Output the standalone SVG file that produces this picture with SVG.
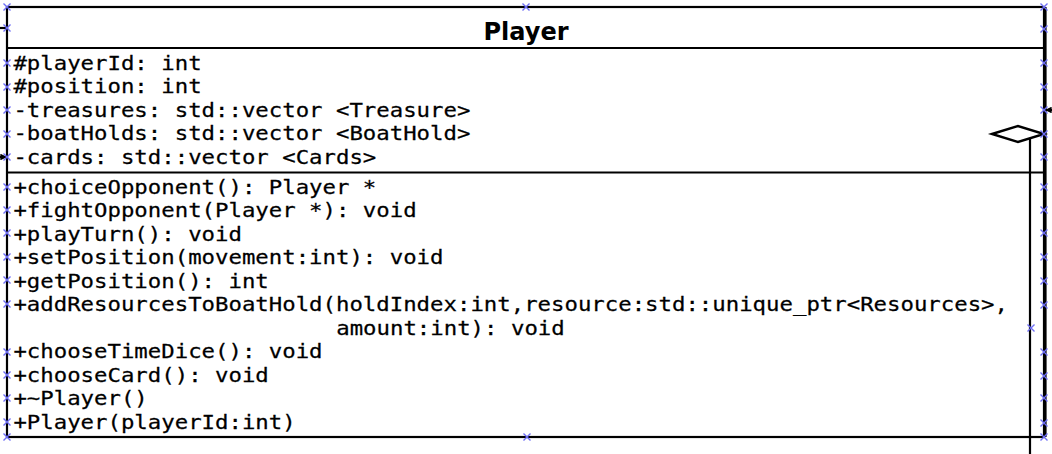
<svg xmlns="http://www.w3.org/2000/svg" width="1052" height="454" viewBox="0 0 1052 454">
  <style>
    .frame { fill: none; stroke: #000000; stroke-width: 2.2; }
    .sep { stroke: #000000; stroke-width: 2.2; }
    .title { font-family: "DejaVu Sans", "Liberation Sans", sans-serif; font-weight: bold; font-size: 24px; fill: #000000; }
    .member { font-family: "DejaVu Sans Mono", "Liberation Mono", monospace; font-size: 20px; fill: #000000; stroke: #000000; stroke-width: 0.25; }
    .wire { fill: none; stroke: #000000; stroke-width: 2.2; }
    .cp { stroke: #6e6ef5; stroke-width: 1.4; fill: none; }
  </style>
  <defs>
    <path id="cross" class="cp" d="M-3.5,-3.5 L3.5,3.5 M-3.5,3.5 L3.5,-3.5"/>
    <marker id="filled" viewBox="0 0 10 10" refX="10" refY="5" markerWidth="3.4" markerHeight="3" orient="auto">
      <path d="M0,0 L10,5 L0,10 Z" fill="#000000"/>
    </marker>
  </defs>

  <!-- connectors -->
  <g id="connectors">
    <line class="wire" x1="1045.5" y1="7" x2="1045.5" y2="437"/>
    <line class="wire" x1="0" y1="28" x2="7" y2="28"/>
    <line class="wire" x1="0" y1="157" x2="7" y2="157" marker-end="url(#filled)"/>
    <line class="wire" x1="1052" y1="110" x2="1045" y2="110" marker-end="url(#filled)"/>
    <polyline class="wire" points="1030,138 1030,454"/>
    <polygon points="992,134 1018,126 1044,134 1018,142" fill="#ffffff" stroke="#000000" stroke-width="2.4"/>
  </g>

  <!-- class Player -->
  <g id="player">
    <rect class="frame" x="7" y="7" width="1037" height="430"/>
    <line class="sep" x1="7" y1="48" x2="1044" y2="48"/>
    <line class="sep" x1="7" y1="172.5" x2="1044" y2="172.5"/>
    <text class="title" x="526" y="40" text-anchor="middle">Player</text>
    <g transform="scale(1.117,1)">
      <text class="member" x="12" y="70">#playerId: int</text>
      <text class="member" x="12" y="93.5">#position: int</text>
      <text class="member" x="12" y="117">-treasures: std::vector &lt;Treasure&gt;</text>
      <text class="member" x="12" y="140.5">-boatHolds: std::vector &lt;BoatHold&gt;</text>
      <text class="member" x="12" y="164">-cards: std::vector &lt;Cards&gt;</text>
      <text class="member" x="12" y="194">+choiceOpponent(): Player *</text>
      <text class="member" x="12" y="217.5">+fightOpponent(Player *): void</text>
      <text class="member" x="12" y="241">+playTurn(): void</text>
      <text class="member" x="12" y="264.5">+setPosition(movement:int): void</text>
      <text class="member" x="12" y="288">+getPosition(): int</text>
      <text class="member" x="12" y="311.5">+addResourcesToBoatHold(holdIndex:int,resource:std::unique_ptr&lt;Resources&gt;,</text>
      <text class="member" x="301" y="335">amount:int): void</text>
      <text class="member" x="12" y="358.5">+chooseTimeDice(): void</text>
      <text class="member" x="12" y="382">+chooseCard(): void</text>
      <text class="member" x="12" y="405.5">+~Player()</text>
      <text class="member" x="12" y="429">+Player(playerId:int)</text>
    </g>
  </g>

  <!-- connection points -->
  <g id="connection-points">
    <use href="#cross" x="7" y="7"/><use href="#cross" x="7" y="28"/>
    <use href="#cross" x="7" y="63"/><use href="#cross" x="7" y="87"/>
    <use href="#cross" x="7" y="110"/><use href="#cross" x="7" y="134"/>
    <use href="#cross" x="7" y="157"/><use href="#cross" x="7" y="187"/>
    <use href="#cross" x="7" y="210"/><use href="#cross" x="7" y="233"/>
    <use href="#cross" x="7" y="257"/><use href="#cross" x="7" y="280"/>
    <use href="#cross" x="7" y="304"/><use href="#cross" x="7" y="352"/>
    <use href="#cross" x="7" y="375"/><use href="#cross" x="7" y="398"/>
    <use href="#cross" x="7" y="422"/><use href="#cross" x="7" y="437"/>
    <use href="#cross" x="1044" y="7"/><use href="#cross" x="1044" y="29"/>
    <use href="#cross" x="1044" y="63"/><use href="#cross" x="1044" y="87"/>
    <use href="#cross" x="1044" y="110"/><use href="#cross" x="1044" y="134"/>
    <use href="#cross" x="1044" y="157"/><use href="#cross" x="1044" y="187"/>
    <use href="#cross" x="1044" y="210"/><use href="#cross" x="1044" y="233"/>
    <use href="#cross" x="1044" y="257"/><use href="#cross" x="1044" y="281"/>
    <use href="#cross" x="1044" y="305"/><use href="#cross" x="1044" y="352"/>
    <use href="#cross" x="1044" y="376"/><use href="#cross" x="1044" y="398"/>
    <use href="#cross" x="1044" y="423"/><use href="#cross" x="1044" y="437"/>
    <use href="#cross" x="526" y="7"/><use href="#cross" x="527" y="437"/>
    <use href="#cross" x="1031" y="328"/>
  </g>
</svg>
